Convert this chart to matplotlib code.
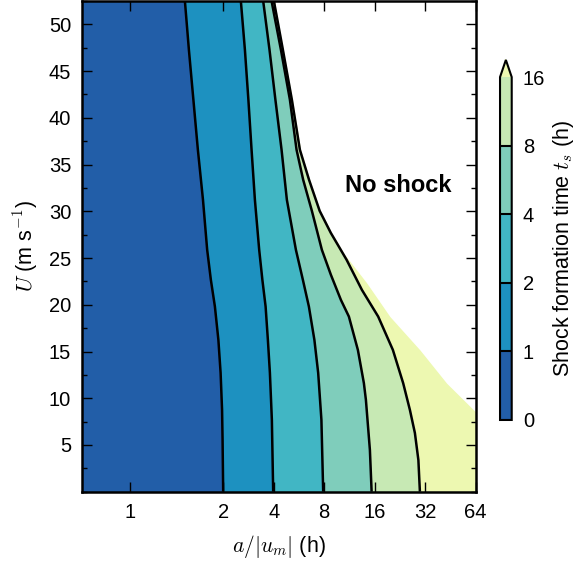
import numpy as np
import matplotlib
matplotlib.use('Agg')
import matplotlib.pyplot as plt
from matplotlib.colors import ListedColormap, BoundaryNorm
from matplotlib.ticker import MultipleLocator, NullLocator
import matplotlib.cm as cm

plt.rcParams['font.family'] = ['Liberation Sans', 'DejaVu Sans']
plt.rcParams['mathtext.fontset'] = 'cm'

# contour levels of shock formation time (h) and their fill colours
levels = [0, 1, 2, 4, 8, 16]
band_colors = ['#225ea8', '#1d91c0', '#41b6c4', '#7fcdbb', '#c7e9b4']
over_color = '#edf8b1'

# contour lines: U (m/s) and log2 of a/|u_m| (h)
U_t1 = [0, 5.53, 8.75, 12.71, 16.24, 19.81, 22.67, 25.88, 31.23, 36.58, 41.94, 47.29, 52.5]
e_t1 = [1.0, 0.988, 0.978, 0.949, 0.905, 0.836, 0.756, 0.683, 0.600, 0.499, 0.410, 0.321, 0.242]

U_t2 = [0, 7.68, 12.71, 16.24, 19.81, 22.67, 25.88, 31.23, 36.58, 41.94, 47.29, 52.5]
e_t2 = [1.990, 1.964, 1.925, 1.885, 1.840, 1.776, 1.713, 1.628, 1.562, 1.499, 1.430, 1.350]

U_t4 = [0, 7.68, 12.71, 16.24, 19.81, 22.67, 25.88, 31.23, 36.58, 41.94, 47.29, 52.5]
e_t4 = [2.980, 2.945, 2.881, 2.806, 2.697, 2.578, 2.440, 2.261, 2.156, 2.034, 1.917, 1.792]

U_t8 = [0, 4.46, 9.82, 11.61, 15.17, 18.74, 20.52, 23.20, 25.88, 30.05, 33.37, 36.58, 41.94, 47.29, 52.5]
e_t8 = [3.939, 3.905, 3.826, 3.786, 3.667, 3.489, 3.331, 3.133, 2.954, 2.756, 2.584, 2.453, 2.321, 2.143, 1.958]

U_t16 = [0, 3.39, 6.28, 8.75, 11.61, 15.17, 18.74, 21.59, 24.81, 27.70, 30.05, 33.37, 36.58, 41.94, 47.29, 52.5]
e_t16 = [4.895, 4.865, 4.796, 4.697, 4.564, 4.360, 4.069, 3.747, 3.444, 3.130, 2.910, 2.700, 2.519, 2.360, 2.182, 2.004]

# edge of the region where a shock forms
U_edge = [0, 8.53, 11.61, 15.17, 18.74, 22.35, 25.34, 27.70, 30.05, 33.37, 36.58, 41.94, 52.5]
e_edge = [6.0, 6.0, 5.424, 4.895, 4.301, 3.840, 3.410, 3.150, 2.925, 2.715, 2.534, 2.372, 2.014]

xtick_pos = [2 ** -0.848, 2, 4, 8, 16, 32, 64]
xtick_lab = ['1', '2', '4', '8', '16', '32', '64']

fig = plt.figure(figsize=(5.79, 5.67), dpi=100)
ax = fig.add_axes([0.1421, 0.1328, 0.6795, 0.8654])
ax.set_xscale('log', base=2)
xmin = 2 ** -1.79
ax.set_xlim(xmin, 64)
ax.set_ylim(0, 52.5)

ax.fill_betweenx(U_edge, xmin, 2.0 ** np.array(e_edge), color=over_color, lw=0)
lines = [(U_t16, e_t16), (U_t8, e_t8), (U_t4, e_t4), (U_t2, e_t2), (U_t1, e_t1)]
for (U, e), c in zip(lines, band_colors[::-1]):
    ax.fill_betweenx(U, xmin, 2.0 ** np.array(e), color=c, lw=0)
for U, e in lines:
    ax.plot(2.0 ** np.array(e), U, color='k', lw=1.8, solid_capstyle='butt')

ax.text(10.6, 32.8, 'No shock', fontsize=17, fontweight='bold', va='center', ha='left')

ax.set_xticks(xtick_pos)
ax.set_xticklabels(xtick_lab)
ax.xaxis.set_minor_locator(NullLocator())
ax.set_yticks(np.arange(5, 51, 5))
ax.yaxis.set_minor_locator(MultipleLocator(2.5))
ax.tick_params(which='both', direction='in', top=True, right=True, width=1, labelsize=14.5, pad=8)
ax.tick_params(which='major', length=7)
ax.tick_params(which='minor', length=3.5)
for s in ax.spines.values():
    s.set_linewidth(1.8)

ax.set_xlabel(r'$a/|u_m|$ (h)', fontsize=15.5, labelpad=8)
ax.set_ylabel(r'$U$ (m s$^{-1}$)', fontsize=15.5, labelpad=6)

# colorbar
cmap = ListedColormap(band_colors)
cmap.set_over(over_color)
norm = BoundaryNorm(levels, cmap.N)
sm = cm.ScalarMappable(norm=norm, cmap=cmap)
cax = fig.add_axes([0.8636, 0.2593, 0.0202, 0.635])
cbar = fig.colorbar(sm, cax=cax, extend='max', ticks=levels)
cbar.add_lines(levels[1:-1], ['k'] * 4, [1.5] * 4)
cbar.outline.set_linewidth(1.5)
cbar.ax.tick_params(length=0, labelsize=14.5, pad=8)
cbar.set_label(r'Shock formation time $t_s$ (h)', fontsize=15.5, labelpad=4)

fig.savefig('out.png', dpi=100)
